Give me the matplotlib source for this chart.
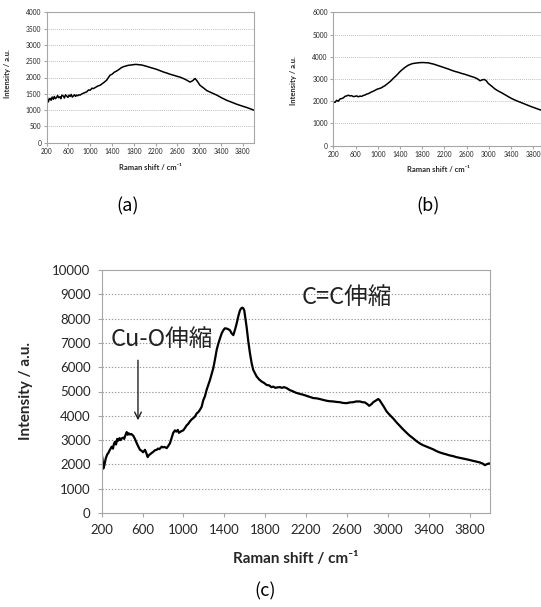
import matplotlib
matplotlib.use("Agg")
import matplotlib.pyplot as plt
from matplotlib.ticker import FixedLocator

# ---------------- data ----------------
a_x = [200, 215, 230, 245, 261, 280, 300, 322, 340, 360, 384, 400, 420, 444, 460, 480, 505, 525, 545, 567,
       590, 610, 630, 650, 670, 689, 710, 730, 750, 770, 790, 812, 850, 890, 935, 970, 1000, 1030, 1056, 1100,
       1140, 1179, 1220, 1260, 1302, 1330, 1363, 1400, 1440, 1486, 1530, 1570, 1607, 1650, 1690, 1730, 1780,
       1820, 1853, 1900, 1940, 1975, 2040, 2098, 2160, 2220, 2280, 2342, 2400, 2465, 2530, 2588, 2650, 2709,
       2770, 2832, 2880, 2924, 2960, 3016, 3080, 3139, 3230, 3323, 3410, 3507, 3600, 3690, 3780, 3874, 3940, 4000]
a_y = [1600, 1350, 1250, 1330, 1360, 1300, 1400, 1330, 1420, 1350, 1390, 1450, 1380, 1410, 1350, 1460, 1430,
       1370, 1470, 1430, 1390, 1460, 1420, 1480, 1400, 1430, 1470, 1420, 1460, 1440, 1470, 1460, 1500, 1530,
       1560, 1620, 1610, 1670, 1660, 1700, 1740, 1760, 1810, 1860, 1920, 1990, 2070, 2100, 2160, 2200, 2250,
       2300, 2330, 2350, 2370, 2380, 2390, 2400, 2400, 2390, 2385, 2370, 2340, 2310, 2280, 2250, 2210, 2170,
       2140, 2100, 2070, 2040, 2010, 1970, 1920, 1860, 1900, 1970, 1900, 1760, 1680, 1600, 1530, 1460, 1380,
       1300, 1240, 1180, 1130, 1080, 1040, 1000]

b_x = [200, 230, 261, 290, 320, 351, 380, 411, 440, 470, 500, 530, 560, 591, 620, 650, 680, 711, 740, 770,
       800, 830, 860, 890, 920, 951, 980, 1010, 1040, 1071, 1100, 1130, 1160, 1190, 1220, 1250, 1280, 1311,
       1340, 1370, 1400, 1431, 1460, 1490, 1520, 1550, 1580, 1610, 1640, 1671, 1700, 1730, 1760, 1791, 1820,
       1850, 1880, 1910, 1950, 1990, 2031, 2090, 2151, 2210, 2270, 2330, 2391, 2450, 2511, 2570, 2630, 2690,
       2751, 2800, 2841, 2880, 2918, 2950, 2990, 3050, 3111, 3170, 3231, 3320, 3411, 3500, 3591, 3680, 3771,
       3860, 3939, 4000]
b_y = [1970, 1950, 2040, 2000, 2100, 2120, 2150, 2220, 2240, 2270, 2240, 2250, 2210, 2220, 2240, 2200, 2230,
       2220, 2260, 2280, 2320, 2340, 2380, 2420, 2450, 2490, 2530, 2560, 2580, 2610, 2660, 2700, 2760, 2820,
       2880, 2950, 3030, 3100, 3170, 3250, 3330, 3400, 3460, 3520, 3570, 3620, 3650, 3680, 3700, 3710, 3720,
       3730, 3735, 3740, 3740, 3735, 3730, 3730, 3700, 3680, 3650, 3600, 3550, 3500, 3450, 3390, 3340, 3300,
       3250, 3210, 3160, 3110, 3060, 3000, 2920, 2960, 2980, 2930, 2800, 2680, 2550, 2460, 2380, 2250, 2120,
       2020, 1930, 1840, 1750, 1670, 1600, 1560]

c_x = [200, 208, 216, 225, 240, 255, 265, 280, 298, 310, 320, 330, 340, 352, 363, 375, 385, 396, 410, 420,
       432, 445, 455, 465, 477, 490, 509, 525, 542, 560, 575, 591, 605, 624, 638, 650, 662, 675, 689, 705,
       720, 738, 750, 765, 787, 800, 815, 836, 850, 868, 885, 900, 917, 930, 945, 955, 966, 980, 998, 1015,
       1030, 1047, 1065, 1080, 1095, 1113, 1130, 1145, 1162, 1178, 1194, 1210, 1227, 1245, 1260, 1275, 1292,
       1310, 1325, 1340, 1357, 1375, 1390, 1405, 1423, 1440, 1455, 1470, 1488, 1505, 1521, 1537, 1553, 1565,
       1576, 1586, 1595, 1605, 1618, 1635, 1651, 1668, 1683, 1700, 1716, 1740, 1765, 1790, 1814, 1840, 1860,
       1879, 1900, 1920, 1944, 1965, 1985, 2010, 2040, 2075, 2100, 2140, 2170, 2205, 2235, 2270, 2300, 2335,
       2370, 2401, 2430, 2466, 2500, 2531, 2560, 2597, 2630, 2662, 2690, 2727, 2750, 2776, 2800, 2818, 2840,
       2858, 2880, 2906, 2920, 2939, 2960, 2988, 3020, 3053, 3085, 3118, 3150, 3184, 3215, 3249, 3280, 3314,
       3345, 3379, 3410, 3444, 3475, 3510, 3540, 3575, 3605, 3640, 3670, 3705, 3740, 3771, 3800, 3836, 3870,
       3901, 3930, 3950, 3970, 3990, 4000]
c_y = [2450, 2200, 1830, 1950, 2250, 2420, 2470, 2600, 2730, 2650, 2850, 2930, 2820, 3050, 2980, 3080, 3000,
       3070, 3100, 3050, 3200, 3330, 3220, 3280, 3230, 3250, 3180, 3050, 2880, 2720, 2600, 2560, 2500, 2600,
       2450, 2300, 2380, 2420, 2470, 2520, 2580, 2600, 2650, 2630, 2730, 2700, 2720, 2670, 2750, 2870, 3100,
       3300, 3400, 3350, 3420, 3300, 3330, 3370, 3400, 3500, 3600, 3670, 3780, 3850, 3900, 3970, 4100, 4150,
       4250, 4370, 4640, 4800, 5070, 5300, 5480, 5700, 5960, 6350, 6710, 6950, 7180, 7400, 7520, 7600, 7590,
       7560, 7520, 7400, 7320, 7550, 7800, 8100, 8340, 8420, 8450, 8420, 8340, 8050, 7660, 7050, 6570, 6150,
       5890, 5750, 5620, 5500, 5410, 5350, 5270, 5250, 5180, 5200, 5150, 5170, 5180, 5150, 5180, 5140, 5060,
       5000, 4950, 4900, 4870, 4820, 4780, 4730, 4720, 4690, 4650, 4620, 4600, 4590, 4570, 4560, 4530, 4520,
       4550, 4560, 4590, 4590, 4560, 4550, 4480, 4410, 4480, 4560, 4620, 4690, 4640, 4520, 4380, 4180, 4030,
       3890, 3730, 3580, 3440, 3300, 3180, 3070, 2960, 2860, 2790, 2730, 2680, 2620, 2550, 2490, 2450, 2410,
       2370, 2340, 2300, 2270, 2240, 2210, 2180, 2140, 2110, 2080, 2030, 1970, 2010, 2040, 2030]

x_ticks = [200, 600, 1000, 1400, 1800, 2200, 2600, 3000, 3400, 3800]
a_yticks = [0, 500, 1000, 1500, 2000, 2500, 3000, 3500, 4000]
b_yticks = [0, 1000, 2000, 3000, 4000, 5000, 6000]
c_yticks = [0, 1000, 2000, 3000, 4000, 5000, 6000, 7000, 8000, 9000, 10000]
x_label = "Raman shift / cm\u207b\u00b9"
y_label = "Intensity / a.u."
panel_labels = ["(a)", "(b)", "(c)"]
anno_cc = "C=C伸縮"
anno_cuo = "Cu-O伸縮"

# ---------------- figure ----------------
W, H = 541, 607
fig = plt.figure(figsize=(W / 100, H / 100), dpi=100)
LAT = ['Lato', 'DejaVu Sans']
SPINE = '#a6a6a6'
TXT = '#262626'


def px_rect(left, top, right, bottom):
    return [left / W, 1 - bottom / H, (right - left) / W, (bottom - top) / H]


def style(ax, yticks, ymax, fs, lfs, tl, pad, lw_grid, ylab_xy, xlab_xy):
    ax.set_xlim(200, 4000)
    ax.set_ylim(0, ymax)
    ax.xaxis.set_major_locator(FixedLocator(x_ticks))
    ax.yaxis.set_major_locator(FixedLocator(yticks))
    ax.set_xticklabels([str(t) for t in x_ticks], family=LAT, fontsize=fs, color=TXT)
    ax.set_yticklabels([str(t) for t in yticks], family=LAT, fontsize=fs, color=TXT)
    for s in ax.spines.values():
        s.set_color(SPINE)
        s.set_linewidth(0.8)
    ax.tick_params(direction='out', length=tl, width=0.8, color=SPINE, pad=pad)
    for t in yticks[1:-1]:
        ax.axhline(t, color='#9a9a9a', lw=lw_grid, ls=(0, (1.2, 1.6)), zorder=0)
    ax.set_ylabel(y_label, family=LAT, fontsize=lfs, fontweight='bold', color=TXT)
    ax.set_xlabel(x_label, family=LAT, fontsize=lfs, fontweight='bold', color=TXT)
    ax.yaxis.set_label_coords(*ylab_xy)
    ax.xaxis.set_label_coords(*xlab_xy)


# panel (a)
axa = fig.add_axes(px_rect(46.7, 12.3, 253.6, 142.7))
axa.plot(a_x, a_y, color='black', lw=1.1)
style(axa, a_yticks, 4000, 4.8, 5.5, 2, 2, 0.5, (-0.172, 0.53), (0.5, -0.16))

# panel (b)
axb = fig.add_axes(px_rect(333.3, 12.3, 544.4, 145.7))
axb.plot(b_x, b_y, color='black', lw=1.1)
style(axb, b_yticks, 6000, 4.8, 5.5, 2, 2, 0.5, (-0.172, 0.49), (0.5, -0.155))

# panel (c)
axc = fig.add_axes(px_rect(101.7, 270, 490, 513))
axc.plot(c_x, c_y, color='black', lw=1.6)
style(axc, c_yticks, 10000, 9.5, 11, 3, 5, 0.8, (-0.177, 0.5), (0.5, -0.16))

JP = ['Noto Sans CJK JP', 'DejaVu Sans']
axc.text(2600, 8850, anno_cc, family=JP, fontsize=17, ha='center', va='center', color='#222222')
axc.text(790, 7160, anno_cuo, family=JP, fontsize=17, ha='center', va='center', color='#222222')
axc.annotate('', xy=(555, 3700), xytext=(555, 6400),
             arrowprops=dict(arrowstyle='->', color='#222222', lw=1.0, mutation_scale=12))

fig.text(128 / W, 1 - 206 / H, panel_labels[0], family=JP, fontsize=13, ha='center', va='center')
fig.text(428 / W, 1 - 206 / H, panel_labels[1], family=JP, fontsize=13, ha='center', va='center')
fig.text(265 / W, 1 - 591 / H, panel_labels[2], family=JP, fontsize=13, ha='center', va='center')

fig.savefig('out.png', dpi=100)
